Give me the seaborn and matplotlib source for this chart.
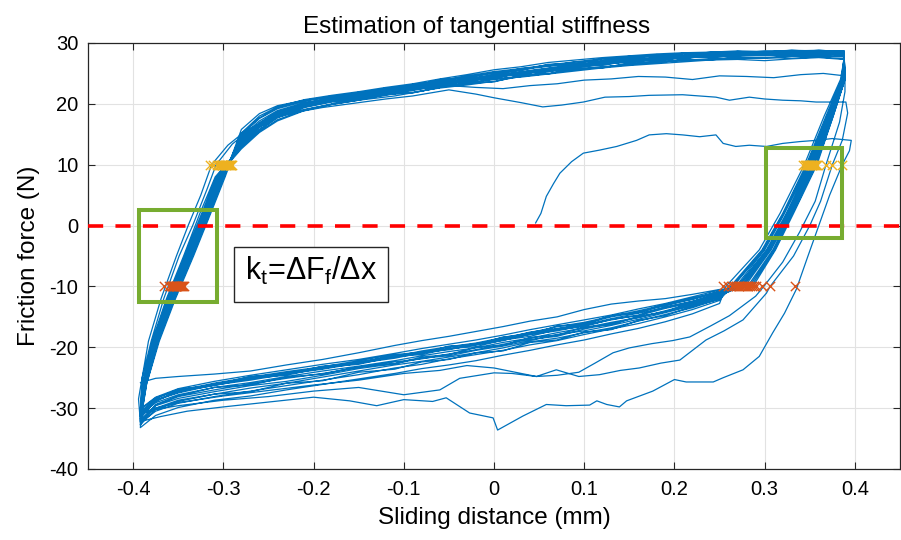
import matplotlib
matplotlib.use("Agg")
import matplotlib.pyplot as plt
import seaborn as sns
import pandas as pd
from matplotlib.patches import Rectangle

# ---------------- data ----------------
TITLE = "Estimation of tangential stiffness"
XLABEL = "Sliding distance (mm)"
YLABEL = "Friction force (N)"
XTICKS = [-0.4, -0.3, -0.2, -0.1, 0.0, 0.1, 0.2, 0.3, 0.4]
XTICK_LABELS = ["-0.4", "-0.3", "-0.2", "-0.1", "0", "0.1", "0.2", "0.3", "0.4"]
YTICKS = [-40, -30, -20, -10, 0, 10, 20, 30]
YTICK_LABELS = ["-40", "-30", "-20", "-10", "0", "10", "20", "30"]

# initial loading curve
INIT_X = [0.046, 0.052, 0.058, 0.066, 0.073, 0.086, 0.099, 0.117, 0.136, 0.158, 0.172, 0.191,
          0.209, 0.228, 0.246, 0.254, 0.268, 0.283, 0.302, 0.320, 0.339, 0.357, 0.375, 0.396]
INIT_Y = [0.4, 2.0, 4.8, 6.9, 8.6, 10.5, 11.9, 12.4, 13.0, 14.0, 14.9, 15.1,
          14.9, 14.6, 14.9, 13.5, 13.0, 13.2, 13.0, 13.5, 13.8, 14.0, 14.3, 14.0]

# first unloading + deepest lower branch
FIRST_X = [0.394, 0.386, 0.372, 0.360, 0.348, 0.335, 0.322, 0.309, 0.294, 0.276, 0.254, 0.243,
           0.213, 0.200, 0.176, 0.147, 0.139, 0.125, 0.114, 0.106, 0.080, 0.058, 0.032, 0.004,
           -0.001, -0.027, -0.053, -0.068, -0.100, -0.130, -0.160, -0.200, -0.250, -0.300,
           -0.340, -0.370, -0.392]
FIRST_Y = [12.3, 10.0, 5.0, 0.0, -5.0, -10.5, -14.4, -17.6, -21.5, -23.7, -25.0, -25.7,
           -25.7, -25.3, -27.2, -28.8, -29.8, -29.4, -28.8, -29.5, -29.6, -29.4, -31.3, -33.6,
           -31.6, -30.8, -28.3, -28.9, -28.6, -29.6, -28.8, -28.2, -29.0, -29.8,
           -30.5, -31.4, -32.2]

# second cycle (low upper branch ~20 N)
SECOND_X = [-0.394, -0.390, -0.383, -0.369, -0.352, -0.339, -0.325, -0.313,
            -0.295, -0.275, -0.250, -0.220, -0.190, -0.150, -0.120, -0.090, -0.050, -0.020,
            0.000, 0.030, 0.054, 0.075, 0.099, 0.123, 0.150, 0.172, 0.209, 0.246, 0.261,
            0.283, 0.300, 0.320, 0.340, 0.357, 0.390,
            0.392, 0.386, 0.375, 0.362, 0.350, 0.332, 0.306,
            0.302, 0.276, 0.255, 0.235, 0.206, 0.185, 0.161, 0.140, 0.117, 0.094, 0.069,
            0.047, 0.020, 0.000, -0.038, -0.060, -0.100, -0.150, -0.200, -0.250, -0.300,
            -0.350, -0.375, -0.392]
SECOND_Y = [-28.5, -25.0, -19.0, -12.0, -5.0, 0.0, 5.0, 10.0,
            13.2, 15.6, 17.4, 18.6, 19.4, 20.2, 20.8, 21.3, 22.3, 21.6,
            21.0, 20.2, 19.5, 19.8, 20.3, 21.1, 21.2, 21.4, 21.5, 21.1, 20.6,
            21.1, 20.8, 20.6, 20.5, 20.3, 20.3,
            18.5, 14.0, 10.0, 4.0, 0.0, -5.0, -10.0,
            -11.1, -15.5, -17.3, -18.8, -22.1, -22.6, -23.4, -23.8, -24.5, -24.8, -23.7,
            -24.8, -24.3, -24.2, -25.1, -27.0, -27.8, -26.6, -27.2, -28.1, -28.7,
            -29.6, -30.2, -31.0]

# third cycle (upper branch ~24 N)
THIRD_X = [-0.390, -0.380, -0.366, -0.349, -0.334, -0.318, -0.308,
           -0.290, -0.270, -0.245, -0.210, -0.180, -0.150, -0.110, -0.080, -0.050, -0.020,
           0.010, 0.040, 0.070, 0.100, 0.130, 0.160, 0.190, 0.220, 0.250, 0.280, 0.310,
           0.340, 0.365, 0.389,
           0.389, 0.383, 0.368, 0.356, 0.339, 0.320, 0.299,
           0.290, 0.261, 0.240, 0.217, 0.198, 0.175, 0.150, 0.132, 0.112, 0.094, 0.070,
           0.047, 0.020, 0.000, -0.030, -0.060, -0.100, -0.150, -0.200, -0.250, -0.300,
           -0.350, -0.375, -0.392]
THIRD_Y = [-25.0, -19.0, -12.0, -5.0, 0.0, 6.0, 10.0,
           13.4, 15.8, 17.8, 19.1, 19.9, 20.6, 21.3, 22.1, 23.0, 22.7,
           22.5, 23.0, 23.3, 23.9, 24.1, 24.5, 24.4, 24.0, 24.6, 24.5, 24.3,
           24.8, 25.0, 24.6,
           22.0, 17.0, 10.0, 4.0, -1.0, -6.0, -10.0,
           -11.6, -14.8, -16.5, -18.3, -18.9, -19.4, -20.1, -20.9, -22.6, -24.1, -24.6,
           -24.8, -24.0, -23.4, -23.0, -23.8, -24.3, -25.4, -26.2, -27.1, -28.0,
           -29.1, -30.0, -30.8]

# steady cycles: shared sample grids + per-cycle values
LEFT_Y = [-26, -19, -12, -5, 2, 8]
UP_X = [-0.28, -0.26, -0.24, -0.21, -0.18, -0.15, -0.12, -0.09, -0.06, -0.03, 0.00, 0.03,
        0.06, 0.09, 0.12, 0.15, 0.18, 0.21, 0.24, 0.27, 0.30, 0.33, 0.36, 0.388]
RIGHT_Y = [24, 18, 10, 2, -4, -10]
LOW_X = [0.25, 0.22, 0.19, 0.16, 0.13, 0.10, 0.07, 0.04, 0.01, -0.02, -0.05, -0.08, -0.11,
         -0.15, -0.19, -0.23, -0.27, -0.31, -0.35, -0.375, -0.392]

CYC_LEFT_X = [
    [-0.387, -0.375, -0.358, -0.338, -0.319, -0.303],
    [-0.389, -0.378, -0.362, -0.342, -0.323, -0.307],
    [-0.385, -0.372, -0.354, -0.334, -0.315, -0.299],
    [-0.388, -0.376, -0.360, -0.340, -0.321, -0.305],
    [-0.386, -0.373, -0.356, -0.336, -0.317, -0.300],
    [-0.390, -0.379, -0.363, -0.344, -0.326, -0.309],
    [-0.387, -0.374, -0.357, -0.337, -0.318, -0.302],
    [-0.388, -0.377, -0.361, -0.341, -0.322, -0.306],
    [-0.385, -0.371, -0.353, -0.333, -0.314, -0.298],
    [-0.387, -0.375, -0.359, -0.339, -0.320, -0.304],
    [-0.386, -0.374, -0.356, -0.335, -0.316, -0.301],
    [-0.388, -0.377, -0.361, -0.343, -0.324, -0.308],
    [-0.386, -0.373, -0.355, -0.336, -0.318, -0.301],
    [-0.389, -0.376, -0.359, -0.339, -0.320, -0.303],
    [-0.387, -0.374, -0.357, -0.338, -0.319, -0.302],
    [-0.386, -0.372, -0.355, -0.335, -0.316, -0.300],
]
CYC_UP_Y = [
    [13.8, 16.6, 18.4, 19.9, 20.6, 21.3, 21.9, 22.6, 23.0, 23.8, 24.3, 24.9, 25.5, 25.9, 26.5, 26.9, 27.3, 27.5, 27.8, 28.0, 28.1, 28.3, 28.2, 28.4],
    [12.6, 15.3, 17.2, 18.9, 19.9, 20.6, 21.5, 21.9, 22.6, 23.1, 23.7, 24.5, 25.0, 25.6, 26.0, 26.6, 26.9, 27.2, 27.4, 27.6, 27.5, 27.8, 27.9, 27.7],
    [15.8, 18.4, 19.7, 20.6, 21.2, 21.8, 22.5, 23.1, 23.8, 24.6, 25.3, 25.8, 26.4, 26.9, 27.4, 27.8, 28.0, 28.3, 28.4, 28.6, 28.5, 28.7, 28.8, 28.6],
    [13.1, 15.8, 17.7, 19.4, 20.3, 20.8, 21.4, 22.2, 22.9, 23.3, 24.0, 24.6, 25.3, 25.7, 26.1, 26.4, 26.9, 27.1, 27.3, 27.4, 27.6, 27.5, 27.7, 27.4],
    [14.6, 17.2, 18.9, 20.2, 20.9, 21.7, 22.3, 22.8, 23.6, 24.2, 24.8, 25.6, 26.2, 26.5, 27.0, 27.5, 27.9, 28.0, 28.2, 28.4, 28.5, 28.4, 28.6, 28.5],
    [12.9, 15.5, 17.4, 19.0, 20.0, 21.0, 21.6, 22.4, 22.8, 23.5, 24.1, 24.4, 24.9, 25.4, 25.9, 26.3, 26.6, 26.9, 27.2, 27.3, 27.1, 27.4, 27.6, 27.3],
    [14.1, 16.9, 18.7, 20.1, 21.0, 21.5, 22.0, 22.9, 23.4, 23.9, 24.6, 25.2, 25.8, 26.3, 26.8, 27.1, 27.6, 27.9, 28.1, 28.2, 28.4, 28.6, 28.5, 28.3],
    [13.5, 16.1, 17.9, 19.6, 20.4, 21.2, 21.7, 22.3, 23.2, 23.7, 24.4, 25.0, 25.4, 26.1, 26.6, 27.0, 27.2, 27.6, 27.7, 27.9, 28.0, 28.1, 28.3, 28.0],
    [15.2, 18.0, 19.5, 20.7, 21.4, 22.0, 22.7, 23.3, 24.1, 24.8, 25.6, 26.1, 26.8, 27.2, 27.6, 27.9, 28.2, 28.4, 28.5, 28.7, 28.6, 28.8, 28.7, 28.7],
    [13.3, 16.2, 18.1, 19.7, 20.5, 21.1, 21.8, 22.5, 23.3, 23.9, 24.5, 25.1, 25.6, 26.2, 26.8, 27.2, 27.5, 27.7, 28.0, 28.1, 28.2, 28.0, 28.3, 28.1],
    [14.3, 16.8, 18.6, 19.8, 20.9, 21.2, 22.1, 22.4, 23.3, 23.6, 24.6, 24.8, 25.7, 26.0, 26.7, 26.8, 27.5, 27.4, 28.0, 27.9, 28.3, 28.2, 28.4, 28.2],
    [12.8, 15.7, 17.8, 19.5, 20.4, 20.7, 21.6, 21.8, 22.7, 23.4, 23.6, 24.7, 24.9, 25.8, 25.9, 26.7, 26.7, 27.3, 27.2, 27.7, 27.6, 27.9, 27.8, 27.8],
    [14.9, 17.6, 19.2, 20.4, 21.3, 21.6, 22.6, 22.9, 24.0, 24.3, 25.2, 25.5, 26.5, 26.6, 27.4, 27.4, 28.1, 28.0, 28.5, 28.3, 28.7, 28.5, 28.8, 28.6],
    [13.6, 16.4, 18.3, 19.8, 20.7, 21.3, 21.8, 22.6, 23.0, 24.0, 24.2, 25.1, 25.3, 26.2, 26.3, 27.1, 27.0, 27.7, 27.6, 28.0, 27.9, 28.2, 28.1, 28.0],
    [14.0, 16.7, 18.7, 20.0, 20.8, 21.6, 22.2, 22.7, 23.5, 24.0, 24.7, 25.3, 25.9, 26.4, 26.9, 27.3, 27.6, 27.8, 28.2, 28.1, 28.4, 28.3, 28.6, 28.4],
    [15.1, 17.7, 19.4, 20.6, 21.1, 21.9, 22.4, 23.2, 23.7, 24.5, 25.0, 25.8, 26.2, 26.9, 27.1, 27.7, 27.8, 28.3, 28.3, 28.6, 28.5, 28.8, 28.6, 28.7],
]
CYC_RIGHT_X = [
    [0.388, 0.372, 0.352, 0.326, 0.304, 0.272],
    [0.385, 0.368, 0.346, 0.320, 0.297, 0.262],
    [0.389, 0.375, 0.357, 0.331, 0.310, 0.283],
    [0.386, 0.369, 0.349, 0.322, 0.300, 0.268],
    [0.389, 0.374, 0.355, 0.329, 0.307, 0.278],
    [0.384, 0.366, 0.344, 0.317, 0.294, 0.257],
    [0.388, 0.373, 0.353, 0.327, 0.305, 0.275],
    [0.387, 0.370, 0.348, 0.321, 0.299, 0.265],
    [0.389, 0.376, 0.358, 0.332, 0.312, 0.287],
    [0.387, 0.371, 0.350, 0.324, 0.302, 0.270],
    [0.387, 0.371, 0.351, 0.325, 0.303, 0.270],
    [0.386, 0.369, 0.347, 0.321, 0.298, 0.264],
    [0.389, 0.375, 0.356, 0.330, 0.309, 0.281],
    [0.387, 0.372, 0.352, 0.326, 0.305, 0.274],
    [0.388, 0.373, 0.354, 0.328, 0.306, 0.276],
    [0.389, 0.376, 0.357, 0.331, 0.311, 0.285],
]
CYC_LOW_Y = [
    [-11.2, -12.4, -13.5, -14.4, -15.3, -16.3, -17.0, -17.8, -18.9, -19.6, -20.3, -20.8, -21.6, -22.5, -23.5, -24.3, -25.2, -26.0, -27.4, -28.6, -30.6],
    [-12.3, -13.8, -15.0, -16.1, -17.0, -17.9, -18.9, -19.6, -20.5, -21.2, -21.9, -22.8, -23.4, -24.5, -25.4, -26.3, -27.2, -28.1, -29.2, -30.5, -32.4],
    [-10.5, -11.3, -12.0, -12.4, -12.9, -13.8, -15.0, -15.7, -16.6, -17.4, -18.2, -18.9, -19.7, -20.9, -22.0, -22.9, -23.9, -24.4, -24.8, -25.1, -25.8],
    [-11.8, -13.2, -14.3, -15.4, -16.4, -17.3, -17.9, -18.9, -19.8, -20.5, -21.4, -21.8, -22.7, -23.5, -24.6, -25.6, -26.3, -27.3, -28.4, -29.6, -31.9],
    [-11.0, -12.1, -13.2, -14.2, -15.0, -16.1, -16.9, -17.5, -18.6, -19.4, -20.0, -20.8, -21.2, -22.2, -23.2, -24.0, -24.9, -25.9, -27.1, -28.3, -30.3],
    [-12.8, -14.5, -15.8, -16.9, -17.8, -18.8, -19.6, -20.5, -21.3, -22.2, -22.9, -23.5, -24.3, -25.2, -26.1, -27.0, -28.0, -28.7, -29.9, -31.2, -33.2],
    [-11.5, -12.8, -14.0, -15.1, -15.9, -16.8, -17.6, -18.5, -19.2, -20.1, -20.7, -21.4, -22.2, -23.1, -23.9, -24.8, -25.8, -26.6, -27.8, -29.1, -31.1],
    [-12.0, -13.5, -14.6, -15.7, -16.8, -17.6, -18.5, -19.1, -20.1, -20.9, -21.6, -22.3, -22.9, -23.9, -24.9, -25.9, -26.7, -27.7, -28.7, -30.0, -32.1],
    [-10.9, -11.9, -13.0, -14.0, -14.9, -15.9, -16.6, -17.6, -18.4, -19.3, -19.9, -20.6, -21.5, -22.4, -23.4, -24.2, -25.0, -26.0, -27.2, -28.8, -31.0],
    [-11.6, -13.0, -14.1, -15.1, -16.1, -17.0, -18.2, -18.7, -19.5, -20.4, -21.1, -21.9, -22.4, -23.3, -24.3, -25.1, -26.0, -27.0, -28.1, -29.5, -32.8],
    [-11.3, -12.7, -13.6, -14.8, -15.4, -16.6, -17.1, -18.2, -18.8, -19.9, -20.2, -21.2, -21.5, -22.8, -23.3, -24.6, -25.1, -26.3, -27.2, -28.9, -31.4],
    [-12.1, -13.3, -14.8, -15.6, -17.1, -17.5, -18.8, -19.2, -20.6, -20.9, -22.0, -22.4, -23.6, -24.1, -25.5, -25.9, -27.3, -27.7, -28.9, -30.2, -32.7],
    [-10.8, -12.1, -12.9, -14.3, -14.8, -16.2, -16.5, -17.9, -18.3, -19.6, -19.8, -21.0, -21.3, -22.6, -23.1, -24.4, -24.8, -26.2, -26.9, -28.4, -30.9],
    [-11.4, -12.6, -14.2, -14.9, -16.3, -16.7, -18.0, -18.4, -19.7, -20.0, -21.2, -21.6, -22.7, -23.2, -24.4, -24.9, -26.2, -26.6, -28.0, -29.4, -32.3],
    [-11.1, -12.5, -13.4, -14.7, -15.5, -16.4, -17.3, -17.9, -18.7, -19.5, -20.4, -20.9, -21.8, -22.6, -23.6, -24.4, -25.4, -26.2, -27.5, -28.7, -31.7],
    [-10.6, -11.7, -12.8, -13.7, -14.7, -15.5, -16.3, -17.1, -18.0, -18.8, -19.5, -20.2, -21.0, -22.0, -22.8, -23.7, -24.6, -25.6, -26.8, -28.2, -30.1],
]

# crossing markers at +10 N (yellow) and -10 N (orange)
MARK_HI = 10
MARK_LO = -10
YEL_LEFT_X = [-0.315, -0.311, -0.307, -0.305, -0.304, -0.302, -0.301, -0.300, -0.299, -0.298,
              -0.297, -0.296, -0.295, -0.294, -0.293, -0.292, -0.291, -0.290, -0.297, -0.301]
YEL_RIGHT_X = [0.343, 0.345, 0.346, 0.347, 0.348, 0.349, 0.350, 0.351, 0.352, 0.353,
               0.354, 0.355, 0.356, 0.357, 0.358, 0.350, 0.352, 0.368, 0.375, 0.386]
ORG_LEFT_X = [-0.366, -0.360, -0.358, -0.357, -0.356, -0.355, -0.354, -0.353, -0.352, -0.351,
              -0.350, -0.349, -0.348, -0.347, -0.346, -0.345, -0.344, -0.353, -0.351, -0.355]
ORG_RIGHT_X = [0.254, 0.259, 0.264, 0.266, 0.268, 0.270, 0.272, 0.274, 0.276, 0.278,
               0.280, 0.282, 0.284, 0.286, 0.288, 0.290, 0.297, 0.306, 0.334, 0.271]

# annotation boxes (data coordinates)
BOX_LEFT = (-0.393, -12.5, 0.086, 15.0)
BOX_RIGHT = (0.302, -2.0, 0.084, 14.8)
FORMULA_BOX = (-0.288, -12.5, 0.171, 9.0)
FORMULA = r"k$_\mathregular{t}$=ΔF$_\mathregular{f}$/Δx"

BLUE = "#0072BD"
YELLOW = "#EDB120"
ORANGE = "#D95319"
GREEN = "#77AC30"
DARK = "#262626"

# ---------------- figure ----------------
sns.set_theme(style="ticks")
plt.rcParams["font.family"] = ["Liberation Sans", "DejaVu Sans"]
plt.rcParams["axes.unicode_minus"] = False
plt.rcParams["mathtext.fontset"] = "custom"
plt.rcParams["mathtext.rm"] = "Liberation Sans"
plt.rcParams["mathtext.it"] = "Liberation Sans:italic"
plt.rcParams["text.color"] = "black"
plt.rcParams["axes.labelcolor"] = "black"

fig = plt.figure(figsize=(9.01, 5.40), dpi=100)
ax = fig.add_axes([88 / 901, 1 - 469 / 540, 812 / 901, 426 / 540])

path_x = INIT_X + FIRST_X + SECOND_X + THIRD_X
path_y = INIT_Y + FIRST_Y + SECOND_Y + THIRD_Y
for i in range(len(CYC_UP_Y)):
    path_x = path_x + CYC_LEFT_X[i] + UP_X + CYC_RIGHT_X[i] + LOW_X
    path_y = path_y + LEFT_Y + CYC_UP_Y[i] + RIGHT_Y + CYC_LOW_Y[i]
df = pd.DataFrame({"x": path_x, "y": path_y})

sns.lineplot(data=df, x="x", y="y", sort=False, estimator=None, color=BLUE,
             lw=0.9, ax=ax, zorder=2)

yel = YEL_LEFT_X + YEL_RIGHT_X
org = ORG_LEFT_X + ORG_RIGHT_X
sns.scatterplot(x=yel, y=[MARK_HI] * len(yel), marker="x", color=YELLOW, s=45,
                linewidth=1.0, ax=ax, zorder=3)
sns.scatterplot(x=org, y=[MARK_LO] * len(org), marker="x", color=ORANGE, s=45,
                linewidth=1.0, ax=ax, zorder=3)

ax.axhline(0, color="#FF0000", lw=2.6, dashes=(4.2, 3.4), zorder=4)

for (bx, by, bw, bh) in (BOX_LEFT, BOX_RIGHT):
    ax.add_patch(Rectangle((bx, by), bw, bh, fill=False, ec=GREEN, lw=2.9, zorder=5))

fx, fy, fw, fh = FORMULA_BOX
ax.add_patch(Rectangle((fx, fy), fw, fh, fc="white", ec=DARK, lw=1.0, zorder=5))
ax.text(fx + fw / 2, fy + fh / 2 + 0.6, FORMULA, fontsize=22, ha="center", va="center",
        color="black", zorder=6)

ax.set_xlim(-0.45, 0.45)
ax.set_ylim(-40, 30)
ax.set_xticks(XTICKS)
ax.set_xticklabels(XTICK_LABELS)
ax.set_yticks(YTICKS)
ax.set_yticklabels(YTICK_LABELS)
ax.tick_params(direction="in", length=5, width=0.8, top=True, right=True,
               labelsize=14.5, colors=DARK, labelcolor="black")
ax.tick_params(axis="x", pad=8)
ax.tick_params(axis="y", pad=7)
ax.grid(True, color="#E2E2E2", lw=0.8)
ax.set_axisbelow(True)
for s in ax.spines.values():
    s.set_visible(True)
    s.set_color(DARK)
    s.set_linewidth(0.9)

ax.set_title(TITLE, fontsize=17.5, x=(477 - 88) / 812, pad=7, color="black")
ax.set_xlabel(XLABEL, fontsize=17.5, labelpad=6, color="black")
ax.set_ylabel(YLABEL, fontsize=17.5, labelpad=7, color="black")

fig.savefig("out.png", dpi=100)
